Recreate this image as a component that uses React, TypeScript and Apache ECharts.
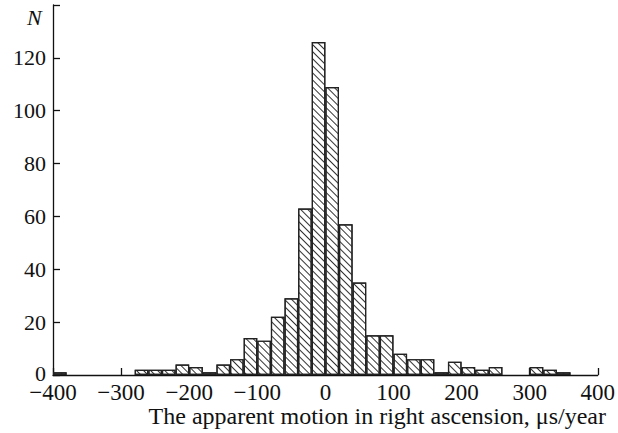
import React, { useEffect, useRef } from "react";
import * as echarts from "echarts";

// Histogram bins: start of each 20-unit bin (µs/year)
const binStarts: number[] = [
  -400, -380, -360, -340, -320, -300, -280, -260, -240, -220,
  -200, -180, -160, -140, -120, -100, -80, -60, -40, -20,
  0, 20, 40, 60, 80, 100, 120, 140, 160, 180,
  200, 220, 240, 260, 280, 300, 320, 340, 360, 380,
];
const counts: number[] = [
  1, 0, 0, 0, 0, 0, 2, 2, 2, 4,
  3, 1, 4, 6, 14, 13, 22, 29, 63, 126,
  109, 57, 35, 15, 15, 8, 6, 6, 1, 5,
  3, 2, 3, 0, 0, 3, 2, 1, 0, 0,
];
const xTicks = { min: -400, max: 400, interval: 100 };
const yTicks = { min: 0, max: 140, interval: 20 };
const xTitle = "The apparent motion in right ascension, μs/year";
const yTitle = "N";

const FONT = "Liberation Serif, Times New Roman, serif";

export default function App() {
  const ref = useRef<HTMLDivElement>(null);
  useEffect(() => {
    if (!ref.current) return;
    const chart = echarts.init(ref.current, null, { renderer: "svg" });
    chart.setOption({
      animation: false,
      backgroundColor: "#fff",
      grid: { left: 53, right: 18, top: 5, bottom: 58, containLabel: false },
      xAxis: [
        {
          type: "category",
          data: binStarts.map(String),
          show: false,
          boundaryGap: true,
        },
        {
          type: "value",
          position: "bottom",
          min: xTicks.min,
          max: xTicks.max,
          interval: xTicks.interval,
          axisLine: { show: true, onZero: false, lineStyle: { color: "#111", width: 1.3 } },
          axisTick: { show: true, inside: true, length: 7, lineStyle: { color: "#111", width: 1.3 } },
          axisLabel: {
            color: "#111",
            fontFamily: FONT,
            fontSize: 23,
            lineHeight: 17,
            margin: 9,
            formatter: (v: number) => (v < 0 ? "\u2212" + Math.abs(v) : String(v)),
          },
          splitLine: { show: false },
        },
      ],
      yAxis: {
        type: "value",
        position: "left",
        min: yTicks.min,
        max: yTicks.max,
        interval: yTicks.interval,
        axisLine: { show: true, onZero: false, lineStyle: { color: "#111", width: 1.3 } },
        axisTick: { show: true, inside: true, length: 7, lineStyle: { color: "#111", width: 1.3 } },
        axisLabel: {
          color: "#111",
          fontFamily: FONT,
          fontSize: 22,
          lineHeight: 15,
          margin: 7,
          formatter: (v: number) =>
            v === yTicks.max ? "" : v === yTicks.min ? "{z|" + v + "}" : String(v),
          rich: {
            z: {
              color: "#111",
              fontFamily: FONT,
              fontSize: 22,
              lineHeight: 14,
              padding: [0, 0, 4, 0],
            },
          },
        },
        splitLine: { show: false },
      },
      series: [
        {
          type: "bar",
          xAxisIndex: 0,
          data: counts.map((c) => (c > 0 ? c : "-")),
          barCategoryGap: "0%",
          barGap: "0%",
          itemStyle: {
            color: "#fff",
            borderColor: "#222",
            borderWidth: 1.2,
            decal: {
              symbol: "rect",
              symbolSize: 1,
              dashArrayX: [1, 0],
              dashArrayY: [1, 3.4],
              rotation: Math.PI / 4,
              color: "#333",
              backgroundColor: "#fff",
            },
          },
        },
      ],
      graphic: [
        {
          type: "text",
          right: 12,
          top: 404,
          style: {
            text: xTitle,
            fill: "#111",
            font: `24px ${FONT}`,
          },
        },
        {
          type: "text",
          left: 27,
          top: 6,
          style: {
            text: yTitle,
            fill: "#111",
            font: `italic 22px ${FONT}`,
          },
        },
      ],
    });
    return () => chart.dispose();
  }, []);
  return (
    <div
      ref={ref}
      style={{ position: "absolute", left: 0, top: 0, width: 618, height: 433 }}
    />
  );
}
